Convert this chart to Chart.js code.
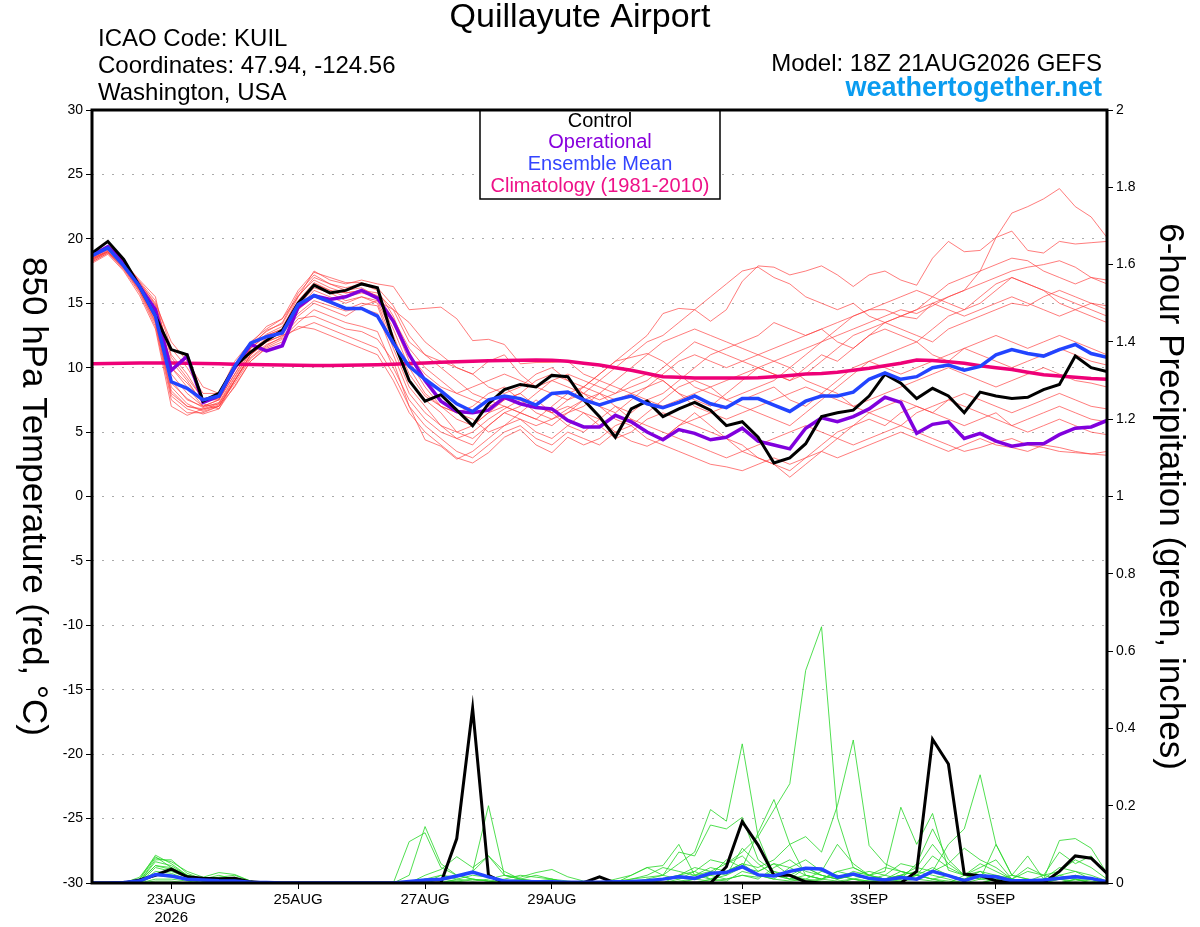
<!DOCTYPE html>
<html>
<head>
<meta charset="utf-8">
<title>Quillayute Airport - GEFS meteogram</title>
<script src="https://cdn.jsdelivr.net/npm/chart.js@4.4.1/dist/chart.umd.min.js"></script>
<style>
  html, body { margin: 0; padding: 0; background: #fff; }
  #wrap { width: 1200px; height: 927px; position: relative; }
</style>
</head>
<body>
<div id="wrap"><canvas id="meteogram"></canvas></div>
<script>
// one value every 6 hours from 18Z 21AUG2026 (hour 0) to hour 384

// x axis labels (hours after run start)
var tickHours = [30, 78, 126, 174, 246, 294, 342];
var tickLabels = ['23AUG', '25AUG', '27AUG', '29AUG', '1SEP', '3SEP', '5SEP'];
var yearLabel = '2026';

// 850 hPa temperature, deg C
var tempControl = [18.9,19.8,18.4,16.3,14.0, 11.4,11.0,7.4,8.0,10.1, 11.2,12.1,12.9,15.0,16.4, 15.8,16.0,16.5,16.2,12.1, 9.0,7.4,7.9,6.7,5.5, 7.2,8.3,8.7,8.5,9.4, 9.3,7.5,6.2,4.6,6.8, 7.4,6.2,6.8,7.3,6.7, 5.5,5.8,4.6,2.6,3.0, 4.1,6.2,6.5,6.7,7.8, 9.5,8.8,7.6,8.4,7.8, 6.5,8.1,7.8,7.6,7.7, 8.3,8.7,10.9,10.0,9.7];
var tempOper = [18.7,19.4,18.2,16.3,14.5, 9.8,10.9,7.3,7.8,10.0, 11.8,11.3,11.7,14.7,15.6, 15.3,15.5,16.0,15.4,13.6, 11.0,9.0,7.4,6.6,6.5, 6.7,7.7,7.2,6.9,6.8, 5.9,5.4,5.4,6.3,5.8, 5.0,4.4,5.2,4.9,4.4, 4.6,5.3,4.3,4.0,3.7, 5.3,6.1,5.8,6.2,6.8, 7.7,7.3,4.9,5.6,5.8, 4.5,4.9,4.3,3.9,4.1, 4.1,4.8,5.3,5.4,5.9];
var tempMean = [18.7,19.3,17.9,16.3,14.0, 8.9,8.4,7.5,7.8,10.1, 11.9,12.4,12.7,14.9,15.6, 15.1,14.6,14.6,14.0,11.9, 10.1,9.1,8.2,7.2,6.6, 7.5,7.8,7.6,7.1,8.0, 8.1,7.5,7.1,7.5,7.8, 7.2,6.9,7.3,7.8,7.2, 6.9,7.6,7.6,7.1,6.6, 7.4,7.8,7.8,8.1,9.1, 9.6,9.1,9.3,10.0,10.2, 9.8,10.1,11.0,11.4,11.1, 10.9,11.4,11.8,11.1,10.8];
var tempClimo = [10.3,10.32,10.34,10.36,10.37, 10.36,10.34,10.32,10.3,10.27, 10.24,10.22,10.2,10.18,10.17, 10.17,10.18,10.2,10.23,10.27, 10.32,10.37,10.42,10.46,10.5, 10.53,10.56,10.58,10.6,10.58, 10.5,10.35,10.2,10.0,9.8, 9.55,9.3,9.25,9.2,9.2, 9.2,9.2,9.22,9.3,9.4, 9.5,9.55,9.65,9.8,9.95, 10.15,10.35,10.6,10.55,10.45, 10.35,10.15,10.0,9.85,9.65, 9.45,9.35,9.25,9.15,9.1];

// ensemble members, temperature
var tempMembers = [
  [18.5,19.2,18.0,16.5,14.5, 9.5,8.0,7.0,7.5,9.5, 11.5,12.5,13.0,15.5,17.0, 16.5,16.0,16.2,15.5,13.0, 10.0,8.0,7.0,6.0,5.5, 6.5,7.5,8.0,7.0,6.5, 7.5,8.5,9.5,10.5,11.5, 12.5,14.2,14.6,14.5,13.6, 14.5,16.7,17.9,17.8,17.2, 17.5,17.9,17.2,16.3,17.2, 17.5,16.8,16.4,18.5,19.8, 19.0,19.1,20.1,22.0,22.5, 23.1,23.9,22.5,21.7,20.1],
  [18.3,19.0,17.8,16.0,13.5, 8.0,7.0,6.8,7.2,9.0, 11.0,12.0,12.5,14.5,16.0, 15.5,15.0,15.5,15.0,12.0, 9.0,7.5,6.5,5.0,4.5, 5.5,6.5,6.0,5.5,6.0, 6.5,7.5,8.0,7.0,6.5, 7.5,8.0,9.0,10.0,11.0, 11.5,12.0,12.5,13.5,13.0, 12.5,13.0,13.5,14.0,14.5, 14.5,14.0,13.8,15.0,15.5, 16.0,17.5,20.1,20.6,19.1, 18.9,19.8,19.6,19.7,19.8],
  [18.7,19.4,18.3,16.6,15.0, 12.0,10.5,8.5,8.0,10.5, 12.0,13.0,13.8,15.5,17.5, 16.8,16.5,16.8,16.5,16.3, 14.5,14.6,14.7,13.8,12.1, 12.2,11.8,10.3,10.4,10.4, 10.5,9.5,9.0,8.5,8.0, 7.5,7.0,7.5,8.0,8.5, 9.0,9.5,10.0,10.5,11.0, 11.5,12.0,12.5,13.0,13.5, 14.0,14.5,14.2,14.8,15.5, 16.0,16.5,17.0,17.5,17.8, 18.0,18.3,17.8,17.0,16.5],
  [18.4,19.1,18.1,16.3,14.0, 10.5,9.0,7.2,6.8,9.0, 11.0,12.2,12.8,14.0,15.0, 14.5,14.0,14.8,15.2,14.5, 13.5,12.0,11.0,10.0,9.5, 10.5,11.0,9.5,8.5,8.0, 7.5,8.0,9.0,10.0,11.0, 12.0,12.5,13.5,14.5,15.5, 16.5,17.5,17.8,17.0,16.5, 15.5,15.0,14.5,15.0,14.0, 13.5,13.0,12.5,12.0,13.0, 13.5,14.0,14.5,15.0,14.8, 15.5,16.0,15.5,15.0,14.5],
  [18.2,18.9,17.6,15.8,13.2, 7.5,6.5,6.5,7.0,9.0, 11.0,12.0,12.5,13.0,13.5, 13.0,12.5,12.0,11.5,9.5, 7.0,5.5,4.5,3.5,3.0, 4.0,5.0,5.5,4.5,4.0, 5.0,4.5,4.0,5.0,5.5, 4.5,4.0,3.5,3.0,2.5, 2.3,2.0,2.5,3.0,2.5, 3.0,3.5,3.0,3.5,4.0, 4.5,5.0,4.5,4.0,3.5, 4.0,4.5,4.0,3.8,3.5, 4.0,3.8,3.5,3.3,3.5],
  [18.6,19.3,18.2,16.8,15.5, 10.0,8.5,7.0,7.5,9.5, 11.5,12.5,13.0,15.0,16.5, 16.0,15.5,15.8,15.5,13.5, 10.5,8.5,7.0,6.5,6.0, 5.0,5.5,6.5,7.5,6.5, 5.5,5.0,6.0,7.0,6.0, 5.0,4.5,5.5,6.5,5.5, 4.5,3.5,3.0,2.5,1.5, 2.5,3.5,4.5,5.5,6.0, 5.5,6.5,7.0,6.5,6.0, 5.5,6.0,6.5,5.5,5.0, 5.5,6.0,5.5,5.0,4.8],
  [18.1,18.8,17.5,15.6,13.0, 7.0,6.3,6.8,7.0,8.5, 10.5,11.5,12.0,14.5,15.5, 15.0,14.5,15.0,14.8,11.5, 8.5,7.0,5.5,4.5,4.0, 5.5,6.5,7.0,8.0,9.0, 8.5,8.0,7.0,6.5,7.5, 8.5,9.0,8.0,7.5,7.0, 8.0,9.0,10.0,9.5,9.0, 10.0,11.0,10.5,11.5,12.5, 13.0,12.5,12.0,13.0,14.0, 14.5,15.0,16.0,17.0,16.5, 16.0,15.0,14.5,14.0,13.5],
  [18.5,19.0,17.9,16.2,14.2, 9.0,7.5,7.0,7.2,9.2, 11.2,12.2,12.8,14.8,16.2, 15.8,15.2,15.5,15.2,12.5, 9.5,7.8,7.0,6.5,7.0, 8.0,8.5,7.5,6.5,6.0, 6.8,7.5,7.0,6.0,5.5, 6.5,7.5,8.5,9.0,8.5, 7.5,7.0,6.5,6.0,5.5, 6.5,7.5,8.5,9.5,10.5, 11.0,11.5,12.0,11.0,10.5, 11.5,12.0,12.5,12.0,11.5, 12.0,12.5,12.0,11.5,11.0],
  [18.4,19.1,18.0,16.4,14.3, 8.5,7.2,6.6,7.0,9.0, 10.8,11.8,12.3,13.5,14.5, 14.0,13.5,13.2,12.8,10.0, 7.5,6.0,5.0,4.5,5.0, 6.0,6.8,7.5,7.0,6.5, 7.0,6.5,5.5,4.5,5.0, 6.0,6.5,6.0,5.5,5.0, 4.5,4.0,3.0,2.5,2.0, 3.0,4.0,5.0,5.5,6.5, 7.0,7.5,7.0,6.5,7.5, 8.0,7.5,7.0,6.5,7.0, 7.5,8.0,7.5,7.0,6.8],
  [18.6,19.3,18.1,16.5,14.8, 11.0,9.5,7.5,7.5,10.0, 11.8,12.8,13.5,15.8,17.2, 16.5,16.2,16.5,16.0,14.0, 11.0,9.5,8.5,8.0,8.5, 9.0,9.5,9.0,8.5,9.0, 9.5,9.0,8.5,8.0,8.5, 9.0,10.0,11.0,12.0,11.5, 11.0,10.5,10.0,9.5,9.0, 9.5,10.5,11.5,12.5,13.0, 13.5,14.0,14.5,15.5,16.5, 17.0,17.5,18.0,18.5,18.3, 17.5,17.0,16.5,17.0,16.8],
  [18.3,19.0,17.7,15.9,13.4, 7.8,6.8,6.4,6.8,8.6, 10.5,11.6,12.2,13.2,13.0, 12.5,12.0,11.5,11.0,9.0, 6.5,5.0,4.0,3.0,2.6, 3.4,4.6,5.2,4.0,3.4, 4.6,4.0,4.5,5.5,6.0, 5.5,5.0,4.5,4.0,3.5, 3.0,3.5,4.0,4.5,5.0, 5.5,5.0,4.5,4.0,4.5, 5.0,5.5,5.0,4.5,4.0, 3.5,3.8,4.2,4.5,4.0, 3.8,3.5,3.4,3.3,3.2],
  [18.5,19.2,18.0,16.4,14.6, 10.0,8.8,7.4,7.6,9.8, 11.5,12.6,13.2,15.2,16.6, 16.0,15.8,16.0,15.6,13.8, 11.5,10.0,9.0,8.0,7.5, 7.0,7.5,8.0,9.0,9.5, 9.0,8.0,7.5,8.0,9.0, 9.5,9.0,8.0,7.0,6.5, 6.0,6.5,7.0,7.5,8.0, 8.5,8.0,7.5,7.0,7.5, 8.0,8.5,9.0,9.5,10.0, 9.5,9.0,8.5,9.0,9.5, 10.0,9.5,9.0,8.8,8.5],
  [18.7,19.3,18.2,16.7,15.2, 11.5,10.0,8.0,8.0,10.2, 11.8,13.2,13.8,16.0,17.4, 17.0,16.6,16.6,16.2,14.8, 12.5,11.0,10.0,9.0,8.0, 7.5,7.0,6.5,6.0,5.5, 6.5,7.0,8.0,9.0,10.0, 11.0,12.0,12.5,13.0,12.5, 12.0,11.5,11.0,10.5,10.0, 9.0,8.5,8.0,7.0,6.5, 6.0,5.5,6.5,7.0,7.5, 7.0,6.5,6.0,5.5,6.0, 6.5,7.0,6.5,6.0,5.8],
  [18.2,18.9,17.7,16.0,13.8, 8.8,7.6,6.9,7.3,9.3, 11.3,12.3,12.9,14.2,15.2, 14.8,14.4,14.6,14.2,11.0, 8.0,6.5,5.5,5.0,5.5, 6.5,7.0,6.5,6.0,7.0, 8.0,8.5,8.0,7.5,8.0, 8.5,9.5,10.5,11.0,10.5, 10.0,10.5,11.0,11.5,12.0, 12.5,13.0,12.0,11.5,12.5, 13.5,14.0,14.5,15.0,14.5, 14.0,14.5,15.0,15.5,15.0, 14.5,14.0,14.5,15.0,14.8],
  [18.4,19.0,17.8,16.1,13.6, 8.2,7.0,6.7,7.1,8.8, 10.7,11.7,12.4,13.8,14.0, 13.5,13.0,12.8,12.2,10.5, 7.0,4.4,3.9,2.9,3.5, 4.5,5.5,6.0,5.0,4.5, 5.5,6.5,6.0,5.0,4.3, 3.9,4.5,5.5,6.0,6.5, 7.0,7.5,8.0,8.5,7.5, 7.0,8.0,9.0,10.0,10.5, 10.0,9.5,10.0,10.5,11.0, 11.5,11.0,10.5,10.0,10.5, 11.0,11.5,11.0,10.5,10.2],
  [18.6,19.3,18.2,16.6,14.9, 10.8,9.2,7.6,7.8,10.0, 11.6,12.9,13.4,15.6,16.8, 16.2,15.8,16.0,15.8,14.5, 12.0,11.0,10.5,10.0,9.5, 8.5,8.0,8.5,9.5,10.0, 9.0,8.5,9.5,10.5,10.8, 11.1,10.5,9.5,8.5,8.0, 7.5,8.0,8.5,9.0,10.0, 11.0,12.0,13.0,14.0,14.5, 15.0,15.5,16.0,15.5,15.0, 14.5,15.5,16.5,17.0,16.5, 16.0,15.5,15.0,14.5,14.0]
];

// 6-hour precipitation, inches
var precipControl = [0,0,0,0.008,0.02, 0.036,0.016,0.012,0.011,0.012, 0.003,0,0,0,0, 0,0,0,0,0, 0,0,0,0.115,0.452, 0.02,0,0,0,0, 0,0.001,0.016,0,0, 0,0,0,0,0, 0.042,0.159,0.098,0.02,0.02, 0.003,0,0,0,0, 0,0,0.03,0.372,0.308, 0.023,0.019,0.006,0,0, 0,0.03,0.07,0.064,0.025];
var precipMean = [0,0,0.001,0.005,0.022, 0.018,0.01,0.008,0.006,0.005, 0.002,0.001,0,0,0, 0,0,0,0,0, 0.004,0.008,0.01,0.018,0.028, 0.016,0.005,0.004,0.003,0.003, 0.002,0.002,0.002,0.003,0.004, 0.006,0.01,0.016,0.012,0.025, 0.027,0.042,0.021,0.018,0.03, 0.038,0.036,0.015,0.023,0.012, 0.008,0.014,0.01,0.03,0.019, 0.006,0.019,0.016,0.006,0.006, 0.008,0.012,0.016,0.012,0.003];

// ensemble members, precipitation
var precipMembers = [
  [0,0,0,0.01,0.072, 0.05,0.02,0.01,0.005,0, 0,0,0,0,0, 0,0,0,0,0, 0.02,0.146,0.05,0.02,0.01, 0.005,0.01,0.02,0.015,0.01, 0,0,0,0.01,0.02, 0.04,0.02,0.01,0.03,0.06, 0.05,0.08,0.12,0.19,0.257, 0.55,0.663,0.17,0.04,0.02, 0.01,0.02,0.03,0.02,0.01, 0,0,0.01,0.02,0.01, 0,0.01,0.02,0.01,0],
  [0,0,0,0.015,0.068, 0.04,0.015,0.01,0.02,0.01, 0,0,0,0,0, 0,0,0,0,0, 0.107,0.13,0.04,0.02,0.03, 0.2,0.02,0.015,0.027,0.035, 0.016,0.005,0,0,0, 0.01,0.02,0.05,0.08,0.19, 0.16,0.36,0.12,0.02,0.01, 0.005,0.01,0.02,0.01,0, 0.01,0.03,0.02,0.01,0, 0,0.01,0.02,0.01,0, 0,0,0.01,0,0],
  [0,0,0,0.01,0.065, 0.055,0.03,0.015,0.027,0.022, 0.005,0,0,0,0, 0,0,0,0,0, 0,0.02,0.035,0.068,0.04, 0.07,0.02,0.01,0.005,0, 0,0,0,0,0.01, 0.02,0.04,0.03,0.02,0.04, 0.03,0.05,0.04,0.06,0.1, 0.12,0.08,0.2,0.37,0.097, 0.05,0.03,0.02,0.01,0.005, 0,0,0.01,0.005,0, 0,0,0.01,0.005,0],
  [0,0,0,0.005,0.06, 0.06,0.025,0.01,0.005,0, 0,0,0,0,0, 0,0,0,0,0, 0,0.01,0.02,0.015,0.03, 0.07,0.03,0.01,0,0, 0,0,0,0,0, 0,0.01,0.02,0.01,0.02, 0.06,0.04,0.13,0.216,0.1, 0.02,0.01,0.03,0.02,0.01, 0.02,0.05,0.04,0.03,0.1, 0.14,0.28,0.1,0.02,0.01, 0.005,0.02,0.01,0,0],
  [0,0,0,0.005,0.055, 0.045,0.02,0.01,0.01,0.005, 0,0,0,0,0, 0,0,0,0,0, 0,0,0.01,0.02,0.01, 0.005,0,0,0,0, 0,0,0,0,0.02, 0.04,0.045,0.1,0.02,0.03, 0.05,0.07,0.03,0.05,0.04, 0.06,0.03,0.1,0.05,0.02, 0.03,0.196,0.1,0.18,0.033, 0.02,0.01,0.005,0,0, 0,0.01,0,0,0],
  [0,0,0,0.005,0.045, 0.035,0.015,0.005,0,0, 0,0,0,0,0, 0,0,0,0,0, 0,0.005,0.01,0.005,0, 0,0.005,0.01,0.02,0.01, 0,0,0,0.005,0.01, 0.015,0.02,0.08,0.07,0.15, 0.14,0.17,0.06,0.03,0.02, 0.04,0.02,0.01,0.03,0.02, 0.01,0.02,0.04,0.1,0.05, 0.02,0.01,0.1,0.02,0.07, 0.01,0.11,0.115,0.09,0.025],
  [0,0,0,0,0.03, 0.025,0.01,0,0,0, 0,0,0,0,0, 0,0,0,0,0, 0,0,0,0.005,0.01, 0.005,0,0,0,0, 0,0,0,0,0, 0.005,0.01,0.02,0.04,0.03, 0.02,0.09,0.05,0.02,0.01, 0.04,0.02,0.01,0.02,0.03, 0.02,0.01,0.05,0.14,0.06, 0.02,0.04,0.06,0.01,0.03, 0.02,0.08,0.05,0.07,0.02],
  [0,0,0,0,0.02, 0.015,0.01,0.005,0.01,0.015, 0,0,0,0,0, 0,0,0,0,0, 0,0.01,0.005,0,0, 0,0,0,0.005,0.01, 0.005,0,0,0,0, 0,0,0.01,0.02,0.01, 0.03,0.05,0.02,0.01,0.04, 0.02,0.01,0.005,0.01,0.02, 0.04,0.03,0.02,0.01,0.02, 0.01,0.03,0.02,0.01,0.005, 0.02,0.03,0.06,0.04,0.01],
  [0,0,0,0,0.01, 0.01,0.005,0,0,0, 0,0,0,0,0, 0,0,0,0,0, 0,0,0,0,0, 0,0,0,0,0, 0,0,0,0,0, 0,0,0.005,0.01,0.02, 0.01,0.02,0.01,0.04,0.06, 0.03,0.02,0.01,0.02,0.01, 0.005,0.01,0.02,0.07,0.04, 0.02,0.05,0.03,0.01,0.04, 0.02,0.01,0.005,0.01,0],
  [0,0,0,0,0.005, 0.005,0,0,0,0, 0,0,0,0,0, 0,0,0,0,0, 0,0,0,0.01,0.02, 0.015,0.005,0,0,0, 0,0,0,0,0, 0,0,0,0,0.01, 0.005,0.03,0.02,0.01,0.005, 0.01,0.005,0,0.01,0.005, 0,0.005,0.01,0.005,0, 0.02,0.03,0.005,0,0.01, 0,0.02,0.03,0.01,0],
  [0,0,0,0.005,0.045, 0.04,0.02,0.01,0.015,0.02, 0.005,0,0,0,0, 0,0,0,0,0, 0,0,0.02,0.01,0.005, 0.01,0.02,0.01,0.005,0, 0,0,0,0,0, 0.01,0,0.02,0.03,0.01, 0.02,0.04,0.03,0.05,0.02, 0.01,0.03,0.02,0.01,0.005, 0.01,0.02,0.01,0.03,0.05, 0.09,0.06,0.04,0.01,0.005, 0.01,0.04,0.03,0.02,0.005],
  [0,0,0,0,0.04, 0.03,0.015,0.005,0,0, 0,0,0,0,0, 0,0,0,0,0, 0,0,0,0,0, 0,0,0,0,0, 0,0,0,0,0, 0,0,0,0.01,0.005, 0.01,0.02,0.015,0.03,0.01, 0.02,0.01,0.03,0.04,0.02, 0.01,0.005,0.02,0.04,0.02, 0.01,0.02,0.01,0.005,0, 0.005,0.01,0.02,0.01,0]
];

var FONT = "'Liberation Sans', Arial, Helvetica, sans-serif";
var hours = tempControl.map(function (v, i) { return i * 6; });

function toPoints(arr) {
  return arr.map(function (v, i) { return { x: hours[i], y: v }; });
}

function line(data, color, width, axis, order) {
  return {
    data: toPoints(data),
    borderColor: color,
    borderWidth: width,
    yAxisID: axis,
    order: order,
    pointRadius: 0,
    tension: 0,
    fill: false
  };
}

var datasets = [];
// thick lines on top (lowest order is drawn last)
datasets.push(line(tempMean, '#2244ff', 3.5, 'y', 1));
datasets.push(line(precipMean, '#2244ff', 3.5, 'y2', 1));
datasets.push(line(tempControl, '#000000', 3, 'y', 2));
datasets.push(line(precipControl, '#000000', 3, 'y2', 2));
datasets.push(line(tempOper, '#8000dd', 3.5, 'y', 3));
datasets.push(line(tempClimo, '#ee0077', 3.5, 'y', 4));
precipMembers.forEach(function (m) {
  datasets.push(line(m, 'rgba(40,215,40,0.9)', 0.9, 'y2', 5));
});
tempMembers.forEach(function (m) {
  datasets.push(line(m, 'rgba(255,60,60,0.75)', 0.9, 'y', 6));
});

var decor = {
  id: 'decor',
  beforeDraw: function (chart) {
    var ctx = chart.ctx;
    ctx.save();
    ctx.fillStyle = '#fff';
    ctx.fillRect(0, 0, chart.width, chart.height);
    ctx.restore();
  },
  afterDraw: function (chart) {
    var ctx = chart.ctx, a = chart.chartArea;
    var midY = (a.top + a.bottom) / 2;
    ctx.save();

    // legend box
    ctx.fillStyle = '#fff';
    ctx.fillRect(480, a.top, 240, 89);
    ctx.strokeStyle = '#000';
    ctx.lineWidth = 1.5;
    ctx.strokeRect(480, a.top, 240, 89);
    ctx.textAlign = 'center';
    ctx.textBaseline = 'middle';
    ctx.font = '20px ' + FONT;
    ctx.fillStyle = '#000'; ctx.fillText('Control', 600, a.top + 11);
    ctx.fillStyle = '#8800dd'; ctx.fillText('Operational', 600, a.top + 32);
    ctx.fillStyle = '#3344ff'; ctx.fillText('Ensemble Mean', 600, a.top + 54);
    ctx.fillStyle = '#ee1188'; ctx.fillText('Climatology (1981-2010)', 600, a.top + 76);

    // plot frame
    ctx.strokeStyle = '#000';
    ctx.lineWidth = 3;
    ctx.strokeRect(a.left, a.top, a.right - a.left, a.bottom - a.top);

    // headers
    ctx.fillStyle = '#000';
    ctx.font = '34px ' + FONT;
    ctx.fillText('Quillayute Airport', 580, 18);

    ctx.textAlign = 'left';
    ctx.font = '24px ' + FONT;
    ctx.fillText('ICAO Code: KUIL', 98, 39);
    ctx.fillText('Coordinates: 47.94, -124.56', 98, 66);
    ctx.fillText('Washington, USA', 98, 93);

    ctx.textAlign = 'right';
    ctx.fillText('Model: 18Z 21AUG2026 GEFS', 1102, 64);
    ctx.font = 'bold 27px ' + FONT;
    ctx.fillStyle = '#0a9cf0';
    ctx.fillText('weathertogether.net', 1102, 89);

    // axis titles, both read top to bottom
    ctx.fillStyle = '#000';
    ctx.textAlign = 'center';
    ctx.font = '35px ' + FONT;
    ctx.save();
    ctx.translate(33, midY);
    ctx.rotate(Math.PI / 2);
    ctx.fillText('850 hPa Temperature (red, \u00B0C)', 0, 0);
    ctx.restore();
    ctx.save();
    ctx.translate(1170, midY);
    ctx.rotate(Math.PI / 2);
    ctx.fillText('6-hour Precipitation (green, inches)', 0, 0);
    ctx.restore();

    ctx.restore();
  }
};

new Chart(document.getElementById('meteogram'), {
  type: 'line',
  data: { datasets: datasets },
  options: {
    responsive: true,
    maintainAspectRatio: false,
    animation: false,
    layout: { padding: { top: 110, left: 0, right: 0, bottom: 0 } },
    plugins: { legend: { display: false }, tooltip: { enabled: false } },
    scales: {
      x: {
        type: 'linear',
        min: 0,
        max: 384,
        afterBuildTicks: function (s) {
          s.ticks = tickHours.map(function (h) { return { value: h }; });
        },
        afterFit: function (s) { s.height = 44; },
        ticks: {
          autoSkip: false,
          maxRotation: 0,
          color: '#000',
          font: { family: FONT, size: 15 },
          padding: 2,
          callback: function (v, i) {
            return i === 0 ? [tickLabels[i], yearLabel] : tickLabels[i];
          }
        },
        grid: { drawOnChartArea: false, tickLength: 6, tickColor: '#000', color: '#000' },
        border: { display: false }
      },
      y: {
        position: 'left',
        min: -30,
        max: 30,
        afterFit: function (s) { s.width = 92; },
        ticks: { stepSize: 5, color: '#000', font: { family: FONT, size: 14 }, padding: 3 },
        grid: { color: '#aaaaaa', lineWidth: 1, tickLength: 6, tickColor: '#000' },
        border: { display: false, dash: [2, 8] }
      },
      y2: {
        position: 'right',
        min: 0,
        max: 2,
        afterFit: function (s) { s.width = 93; },
        ticks: {
          stepSize: 0.2,
          color: '#000',
          font: { family: FONT, size: 14 },
          padding: 3,
          callback: function (v) { return String(Math.round(v * 10) / 10); }
        },
        grid: { drawOnChartArea: false, tickLength: 6, tickColor: '#000', color: '#000' },
        border: { display: false }
      }
    }
  },
  plugins: [decor]
});
</script>
</body>
</html>
